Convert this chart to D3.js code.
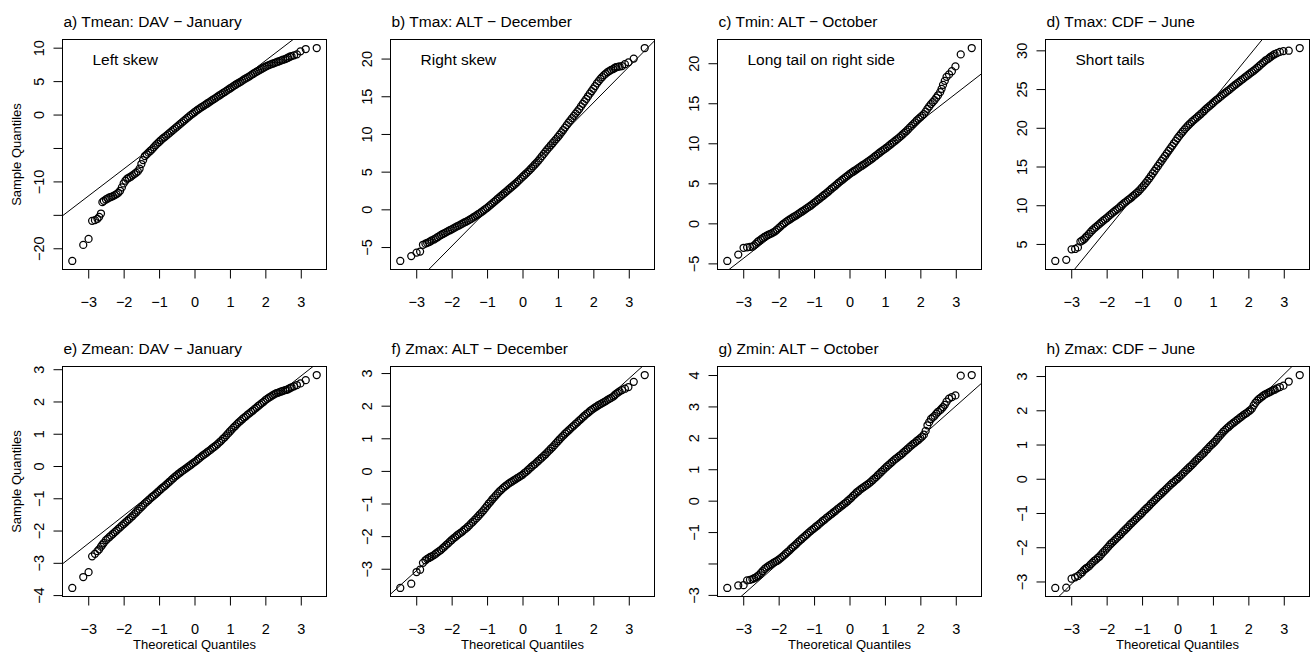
<!DOCTYPE html>
<html>
<head>
<meta charset="utf-8">
<script src="https://cdn.jsdelivr.net/npm/d3@7"></script>
<style>
  body { margin: 0; background: #fff; }
  text { font-family: "Liberation Sans", Arial, Helvetica, sans-serif; fill: #000; }
</style>
</head>
<body>
<svg id="chart" width="1310" height="655"></svg>
<script>
// theoretical quantiles (shared by every panel): lower tail, dense middle, upper tail
var theoretical = [-3.45, -3.14, -2.99, -2.89, -2.81, -2.74, -2.69, -2.64, -2.6, -2.56,
  -2.5, -2.45, -2.4, -2.35, -2.3, -2.25, -2.2, -2.15, -2.1, -2.05,
  -2.0, -1.95, -1.9, -1.85, -1.8, -1.75, -1.7, -1.65, -1.6, -1.55,
  -1.5, -1.45, -1.4, -1.35, -1.3, -1.25, -1.2, -1.15, -1.1, -1.05,
  -1.0, -0.95, -0.9, -0.85, -0.8, -0.75, -0.7, -0.65, -0.6, -0.55,
  -0.5, -0.45, -0.4, -0.35, -0.3, -0.25, -0.2, -0.15, -0.1, -0.05,
  0,
  0.05, 0.1, 0.15, 0.2, 0.25, 0.3, 0.35, 0.4, 0.45, 0.5,
  0.55, 0.6, 0.65, 0.7, 0.75, 0.8, 0.85, 0.9, 0.95, 1.0,
  1.05, 1.1, 1.15, 1.2, 1.25, 1.3, 1.35, 1.4, 1.45, 1.5,
  1.55, 1.6, 1.65, 1.7, 1.75, 1.8, 1.85, 1.9, 1.95, 2.0,
  2.05, 2.1, 2.15, 2.2, 2.25, 2.3, 2.35, 2.4, 2.45, 2.5,
  2.56, 2.6, 2.64, 2.69, 2.74, 2.81, 2.89, 2.99, 3.14, 3.45]

// sample quantiles (same order as theoretical)
var sampleA = [-21.9, -19.5, -18.6, -15.9, -15.8, -15.6, -15.3, -14.8, -13.1, -12.9,
  -12.7, -12.55, -12.4, -12.3, -12.2, -12.05, -11.9, -11.7, -11.4, -10.9,
  -10.3, -9.9, -9.6, -9.45, -9.3, -9.1, -8.9, -8.7, -8.5, -8.1,
  -7.4, -6.8, -6.2, -5.95, -5.7, -5.45, -5.2, -4.9, -4.6, -4.35,
  -4.1, -3.85, -3.6, -3.4, -3.2, -2.97, -2.75, -2.52, -2.3, -2.07,
  -1.85, -1.62, -1.4, -1.17, -0.95, -0.72, -0.5, -0.27, -0.05, 0.15,
  0.35,
  0.55, 0.75, 0.92, 1.1, 1.27, 1.45, 1.62, 1.8, 1.97, 2.15,
  2.32, 2.5, 2.67, 2.85, 3.02, 3.2, 3.37, 3.55, 3.72, 3.9,
  4.07, 4.25, 4.42, 4.6, 4.75, 4.9, 5.07, 5.25, 5.4, 5.55,
  5.72, 5.9, 6.07, 6.25, 6.4, 6.55, 6.7, 6.85, 7.0, 7.15,
  7.27, 7.4, 7.5, 7.6, 7.7, 7.8, 7.9, 8.0, 8.1, 8.2,
  8.3, 8.4, 8.5, 8.65, 8.75, 8.85, 9.0, 9.45, 9.8, 9.95]
var sampleB = [-6.85, -6.2, -5.75, -5.6, -4.7, -4.55, -4.45, -4.35, -4.25, -4.1,
  -4.0, -3.85, -3.7, -3.55, -3.4, -3.27, -3.15, -3.02, -2.9, -2.77,
  -2.65, -2.52, -2.4, -2.27, -2.15, -2.02, -1.9, -1.77, -1.65, -1.52,
  -1.4, -1.25, -1.1, -0.95, -0.8, -0.65, -0.5, -0.32, -0.15, 0.02,
  0.2, 0.4, 0.6, 0.8, 1.0, 1.2, 1.4, 1.6, 1.8, 2.0,
  2.2, 2.4, 2.6, 2.8, 3.0, 3.2, 3.4, 3.62, 3.85, 4.07,
  4.3,
  4.52, 4.75, 4.97, 5.2, 5.45, 5.7, 5.95, 6.2, 6.47, 6.75,
  7.05, 7.35, 7.65, 7.95, 8.22, 8.5, 8.77, 9.05, 9.32, 9.6,
  9.9, 10.2, 10.52, 10.85, 11.17, 11.5, 11.8, 12.1, 12.4, 12.7,
  13.0, 13.3, 13.65, 14.0, 14.32, 14.65, 15.0, 15.35, 15.67, 16.0,
  16.35, 16.7, 17.0, 17.3, 17.55, 17.8, 18.0, 18.2, 18.35, 18.5,
  18.6, 18.75, 18.85, 18.9, 18.95, 19.0, 19.25, 19.5, 20.0, 21.4]
var sampleC = [-4.7, -3.9, -3.05, -3.0, -2.95, -2.9, -2.75, -2.55, -2.35, -2.2,
  -2.0, -1.85, -1.7, -1.57, -1.45, -1.35, -1.25, -1.12, -1.0, -0.8,
  -0.6, -0.4, -0.2, -0.02, 0.15, 0.3, 0.45, 0.6, 0.75, 0.87,
  1.0, 1.15, 1.3, 1.45, 1.6, 1.75, 1.9, 2.05, 2.2, 2.37,
  2.55, 2.72, 2.9, 3.07, 3.25, 3.42, 3.6, 3.77, 3.95, 4.15,
  4.35, 4.52, 4.7, 4.9, 5.1, 5.27, 5.45, 5.62, 5.8, 5.97,
  6.15,
  6.3, 6.45, 6.6, 6.75, 6.9, 7.05, 7.2, 7.35, 7.5, 7.65,
  7.8, 7.95, 8.12, 8.3, 8.47, 8.65, 8.82, 9.0, 9.15, 9.3,
  9.47, 9.65, 9.82, 10.0, 10.17, 10.35, 10.52, 10.7, 10.9, 11.1,
  11.3, 11.5, 11.72, 11.95, 12.17, 12.4, 12.62, 12.85, 13.05, 13.25,
  13.45, 13.65, 13.95, 14.3, 14.6, 14.9, 15.15, 15.4, 15.7, 16.0,
  16.4, 16.8, 17.3, 17.8, 18.3, 18.6, 19.0, 19.6, 21.1, 21.9]
var sampleD = [2.8, 2.95, 4.3, 4.35, 4.55, 5.3, 5.45, 5.6, 5.8, 6.0,
  6.3, 6.55, 6.8, 7.0, 7.2, 7.4, 7.6, 7.8, 8.0, 8.17,
  8.35, 8.55, 8.75, 8.95, 9.15, 9.32, 9.5, 9.7, 9.9, 10.1,
  10.3, 10.47, 10.65, 10.82, 11.0, 11.2, 11.4, 11.6, 11.8, 12.05,
  12.3, 12.57, 12.85, 13.15, 13.45, 13.77, 14.1, 14.42, 14.75, 15.07,
  15.4, 15.72, 16.05, 16.37, 16.7, 17.02, 17.35, 17.67, 18.0, 18.32,
  18.65,
  18.95, 19.25, 19.52, 19.8, 20.05, 20.3, 20.52, 20.75, 20.95, 21.15,
  21.35, 21.55, 21.75, 21.95, 22.17, 22.4, 22.6, 22.8, 23.0, 23.2,
  23.4, 23.6, 23.77, 23.95, 24.15, 24.35, 24.52, 24.7, 24.87, 25.05,
  25.25, 25.45, 25.62, 25.8, 25.97, 26.15, 26.32, 26.5, 26.67, 26.85,
  27.02, 27.2, 27.37, 27.55, 27.75, 27.95, 28.15, 28.35, 28.55, 28.75,
  28.9, 29.05, 29.2, 29.35, 29.5, 29.65, 29.8, 29.9, 29.95, 30.3]
var sampleE = [-3.78, -3.44, -3.29, -2.8, -2.72, -2.64, -2.58, -2.5, -2.44, -2.38,
  -2.3, -2.25, -2.2, -2.15, -2.1, -2.05, -2.0, -1.95, -1.9, -1.85,
  -1.8, -1.75, -1.7, -1.65, -1.6, -1.55, -1.49, -1.44, -1.38, -1.33,
  -1.27, -1.22, -1.16, -1.11, -1.06, -1.01, -0.96, -0.92, -0.87, -0.82,
  -0.77, -0.72, -0.67, -0.63, -0.58, -0.53, -0.48, -0.43, -0.38, -0.33,
  -0.29, -0.24, -0.2, -0.16, -0.12, -0.08, -0.04, 0.0, 0.04, 0.08,
  0.12,
  0.16, 0.21, 0.25, 0.3, 0.34, 0.38, 0.42, 0.46, 0.5, 0.55,
  0.59, 0.63, 0.68, 0.73, 0.78, 0.84, 0.89, 0.95, 1.01, 1.07,
  1.13, 1.19, 1.24, 1.3, 1.35, 1.4, 1.45, 1.5, 1.54, 1.59,
  1.63, 1.68, 1.72, 1.77, 1.81, 1.86, 1.9, 1.95, 1.99, 2.04,
  2.08, 2.12, 2.15, 2.19, 2.22, 2.25, 2.27, 2.29, 2.31, 2.33,
  2.35, 2.36, 2.38, 2.41, 2.44, 2.47, 2.51, 2.56, 2.66, 2.82]
var sampleF = [-3.59, -3.46, -3.1, -3.03, -2.82, -2.74, -2.7, -2.67, -2.64, -2.62,
  -2.58, -2.54, -2.5, -2.46, -2.42, -2.37, -2.32, -2.27, -2.22, -2.17,
  -2.12, -2.07, -2.03, -1.98, -1.94, -1.9, -1.86, -1.81, -1.77, -1.72,
  -1.67, -1.61, -1.56, -1.5, -1.45, -1.39, -1.33, -1.27, -1.21, -1.14,
  -1.07, -1.0, -0.94, -0.87, -0.81, -0.75, -0.69, -0.63, -0.58, -0.53,
  -0.48, -0.44, -0.4, -0.36, -0.33, -0.29, -0.26, -0.22, -0.19, -0.15,
  -0.12,
  -0.07, -0.03, 0.02, 0.07, 0.12, 0.17, 0.21, 0.26, 0.31, 0.36,
  0.41, 0.46, 0.51, 0.57, 0.62, 0.68, 0.73, 0.79, 0.85, 0.91,
  0.97, 1.03, 1.08, 1.14, 1.19, 1.24, 1.29, 1.34, 1.39, 1.44,
  1.49, 1.54, 1.59, 1.64, 1.69, 1.74, 1.78, 1.83, 1.87, 1.91,
  1.95, 1.98, 2.02, 2.05, 2.08, 2.11, 2.14, 2.18, 2.21, 2.24,
  2.28, 2.32, 2.36, 2.4, 2.44, 2.48, 2.52, 2.57, 2.73, 2.94]
var sampleG = [-2.78, -2.7, -2.69, -2.54, -2.52, -2.5, -2.47, -2.44, -2.41, -2.37,
  -2.3, -2.24, -2.18, -2.13, -2.09, -2.05, -2.02, -1.98, -1.95, -1.92,
  -1.88, -1.84, -1.79, -1.74, -1.69, -1.64, -1.59, -1.53, -1.48, -1.43,
  -1.38, -1.32, -1.27, -1.22, -1.17, -1.12, -1.07, -1.02, -0.97, -0.92,
  -0.88, -0.83, -0.79, -0.74, -0.69, -0.64, -0.6, -0.55, -0.51, -0.46,
  -0.42, -0.37, -0.33, -0.28, -0.24, -0.19, -0.15, -0.1, -0.06, -0.01,
  0.04,
  0.09, 0.15, 0.2, 0.26, 0.3, 0.35, 0.39, 0.43, 0.47, 0.51,
  0.55, 0.6, 0.65, 0.7, 0.75, 0.81, 0.86, 0.92, 0.97, 1.03,
  1.08, 1.13, 1.18, 1.23, 1.28, 1.33, 1.37, 1.42, 1.46, 1.51,
  1.56, 1.61, 1.66, 1.71, 1.76, 1.81, 1.85, 1.9, 1.94, 1.99,
  2.04, 2.1, 2.22, 2.4, 2.5, 2.6, 2.65, 2.7, 2.77, 2.83,
  2.88, 2.93, 2.98, 3.05, 3.15, 3.25, 3.3, 3.35, 3.98, 4.0]
var sampleH = [-3.19, -3.18, -2.92, -2.88, -2.84, -2.78, -2.73, -2.67, -2.63, -2.6,
  -2.56, -2.5, -2.45, -2.4, -2.36, -2.31, -2.27, -2.21, -2.15, -2.1,
  -2.04, -1.98, -1.92, -1.87, -1.82, -1.77, -1.72, -1.67, -1.62, -1.56,
  -1.51, -1.46, -1.41, -1.35, -1.3, -1.25, -1.2, -1.15, -1.1, -1.05,
  -1.0, -0.94, -0.89, -0.84, -0.79, -0.73, -0.68, -0.63, -0.58, -0.53,
  -0.48, -0.43, -0.38, -0.33, -0.28, -0.23, -0.18, -0.13, -0.09, -0.04,
  0.0,
  0.05, 0.1, 0.15, 0.2, 0.25, 0.3, 0.35, 0.4, 0.45, 0.51,
  0.56, 0.61, 0.66, 0.71, 0.76, 0.82, 0.87, 0.93, 0.98, 1.03,
  1.08, 1.14, 1.2, 1.26, 1.32, 1.38, 1.43, 1.48, 1.52, 1.57,
  1.61, 1.65, 1.69, 1.73, 1.77, 1.81, 1.85, 1.89, 1.92, 1.96,
  2.0, 2.05, 2.14, 2.22, 2.28, 2.33, 2.37, 2.41, 2.45, 2.48,
  2.51, 2.53, 2.55, 2.58, 2.6, 2.64, 2.68, 2.72, 2.84, 3.03]

var samples = [sampleA, sampleB, sampleC, sampleD, sampleE, sampleF, sampleG, sampleH]

var titles = ["a) Tmean: DAV \u2212 January", "b) Tmax: ALT \u2212 December", "c) Tmin: ALT \u2212 October",
  "d) Tmax: CDF \u2212 June", "e) Zmean: DAV \u2212 January", "f) Zmax: ALT \u2212 December",
  "g) Zmin: ALT \u2212 October", "h) Zmax: CDF \u2212 June"]
var notes = ["Left skew", "Right skew", "Long tail on right side", "Short tails", "", "", "", ""]

// qqline of each panel: intercept and slope
var lineIntercept = [-0.05, 4.62, 5.9, 18.0, 0.19, -0.12, 0.01, -0.02]
var lineSlope = [4.05, 4.76, 3.43, 5.6, 0.865, 0.982, 1.0, 1.021]

var xTicks = [-3, -2, -1, 0, 1, 2, 3]
var yTicks = [
  [-20, -15, -10, -5, 0, 5, 10],
  [-5, 0, 5, 10, 15, 20],
  [-5, 0, 5, 10, 15, 20],
  [5, 10, 15, 20, 25, 30],
  [-4, -3, -2, -1, 0, 1, 2, 3],
  [-3, -2, -1, 0, 1, 2, 3],
  [-3, -2, -1, 0, 1, 2, 3, 4],
  [-3, -2, -1, 0, 1, 2, 3]
]
// R drops labels that would collide, so some ticks stay unlabelled
var yLabels = [
  ["\u221220", "", "\u221210", "", "0", "5", "10"],
  ["\u22125", "0", "5", "10", "15", "20"],
  ["\u22125", "0", "5", "10", "15", "20"],
  ["5", "10", "15", "20", "25", "30"],
  ["\u22124", "\u22123", "\u22122", "\u22121", "0", "1", "2", "3"],
  ["\u22123", "\u22122", "\u22121", "0", "1", "2", "3"],
  ["\u22123", "", "\u22121", "0", "1", "2", "3", "4"],
  ["\u22123", "\u22122", "\u22121", "0", "1", "2", "3"]
]

var cellW = 327.5, cellH = 327.5
var boxW = 264, boxH = 230
var minus = function(d) { return d < 0 ? "\u2212" + Math.abs(d) : "" + d }

// R style axis range: data range stretched by 4% each side
function padRange(ext) {
  var d = (ext[1] - ext[0]) * 0.04
  return [ext[0] - d, ext[1] + d]
}

var svg = d3.select("#chart")

samples.forEach(function(ys, i) {
  var col = i % 4, row = Math.floor(i / 4)
  var left = Math.floor(62.5 + col * cellW) + 0.5
  var top = Math.floor(39.3 + row * cellH) + 0.5

  var x = d3.scaleLinear()
    .domain(padRange(d3.extent(theoretical)))
    .range([left, left + boxW])
  var y = d3.scaleLinear()
    .domain(padRange(d3.extent(ys)))
    .range([top + boxH, top])

  var g = svg.append("g")

  g.append("clipPath").attr("id", "clip" + i)
    .append("rect")
      .attr("x", left).attr("y", top)
      .attr("width", boxW).attr("height", boxH)

  // points
  g.append("g")
    .selectAll("circle")
    .data(ys)
    .enter().append("circle")
      .attr("cx", function(d, k) { return x(theoretical[k]) })
      .attr("cy", function(d) { return y(d) })
      .attr("r", 3.5)
      .attr("fill", "none")
      .attr("stroke", "#000")
      .attr("stroke-width", 1.25)

  // qqline
  var xd = x.domain()
  g.append("line")
    .attr("clip-path", "url(#clip" + i + ")")
    .attr("x1", x(xd[0])).attr("y1", y(lineIntercept[i] + lineSlope[i] * xd[0]))
    .attr("x2", x(xd[1])).attr("y2", y(lineIntercept[i] + lineSlope[i] * xd[1]))
    .attr("stroke", "#000")
    .attr("stroke-width", 1)

  // x axis
  var gx = g.append("g")
    .attr("transform", "translate(0," + (top + boxH) + ")")
    .call(d3.axisBottom(x).tickValues(xTicks).tickSize(9).tickSizeOuter(0).tickFormat(minus))
  gx.select(".domain").remove()
  gx.selectAll("text")
    .attr("y", 37).attr("dy", null)
    .attr("font-size", 14.5)
    .attr("font-family", "Liberation Sans, Arial, sans-serif")

  // y axis, labels turned like R's default las = 0
  var gy = g.append("g")
    .attr("transform", "translate(" + left + ",0)")
    .call(d3.axisLeft(y).tickValues(yTicks[i]).tickSize(9).tickSizeOuter(0)
      .tickFormat(function(d, k) { return yLabels[i][k] }))
  gy.select(".domain").remove()
  gy.selectAll("text")
    .attr("x", null).attr("dy", null)
    .attr("text-anchor", "middle")
    .attr("transform", "translate(-19,0) rotate(-90)")
    .attr("font-size", 14.5)
    .attr("font-family", "Liberation Sans, Arial, sans-serif")

  // box
  g.append("rect")
    .attr("x", left).attr("y", top)
    .attr("width", boxW).attr("height", boxH)
    .attr("fill", "none")
    .attr("stroke", "#000")
    .attr("stroke-width", 1)

  // title
  g.append("text")
    .attr("x", left + 1).attr("y", top - 12.5)
    .attr("font-size", 15.5)
    .text(titles[i])

  if (notes[i] != "") {
    g.append("text")
      .attr("x", left + 30).attr("y", top + 25)
      .attr("font-size", 15.5)
      .text(notes[i])
  }

  if (col == 0) {
    g.append("text")
      .attr("transform", "translate(20.5," + (top + boxH / 2) + ") rotate(-90)")
      .attr("text-anchor", "middle")
      .attr("font-size", 13)
      .text("Sample Quantiles")
  }
  if (row == 1) {
    g.append("text")
      .attr("x", left + boxW / 2).attr("y", top + boxH + 52)
      .attr("text-anchor", "middle")
      .attr("font-size", 13)
      .text("Theoretical Quantiles")
  }
})
</script>
</body>
</html>
